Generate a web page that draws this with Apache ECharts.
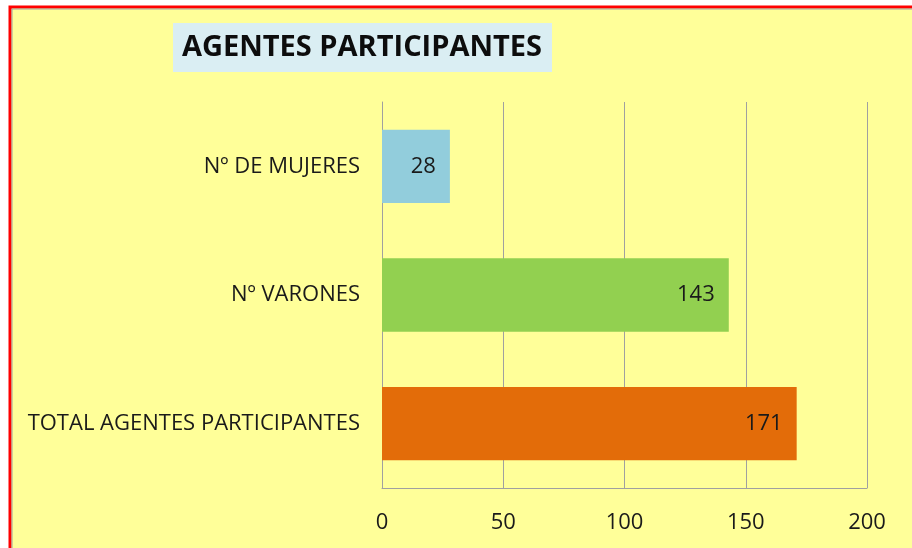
<!DOCTYPE html>
<html>
<head>
<meta charset="utf-8">
<script src="https://cdn.jsdelivr.net/npm/echarts@6/dist/echarts.min.js"></script>
<style>
  html, body { margin: 0; padding: 0; background: #ffffff; }
  #agentes-chart { width: 912px; height: 548px; }
</style>
</head>
<body>
<div id="agentes-chart"></div>
<script>
// datos del grafico
var categorias = ['Nº DE MUJERES', 'Nº VARONES', 'TOTAL AGENTES PARTICIPANTES'];
var valores = [28, 143, 171];
var colores = ['#92CDDC', '#92D050', '#E36C09'];
var ticksX = [0, 50, 100, 150, 200];

function loadAgentesChart() {
    var agentesChart = echarts.init(document.getElementById('agentes-chart'));

    var agentesOption = {
        backgroundColor: '#ffffff',
        animation: false,
        graphic: [{
            type: 'rect',
            z: -10,
            shape: { x: 10, y: 7, width: 1000, height: 1000 },
            style: { fill: '#FFFF99', stroke: '#FF0000', lineWidth: 3 }
        }, {
            type: 'rect',
            z: -9,
            shape: { x: 12, y: 9, width: 1000, height: 1000 },
            style: { fill: 'none', stroke: '#A0A0A0', lineWidth: 1 }
        }],
        title: {
            text: 'AGENTES PARTICIPANTES',
            left: 173,
            top: 23,
            padding: [10, 10, 10, 9],
            backgroundColor: '#DAEEF3',
            textStyle: {
                fontFamily: 'Open Sans',
                fontSize: 29,
                fontWeight: 'bold',
                color: '#0d0d0d'
            }
        },
        grid: {
            left: 382,
            right: 45,
            top: 102,
            bottom: 60
        },
        xAxis: {
            type: 'value',
            min: 0,
            max: 200,
            interval: 50,
            axisLine: { show: true, lineStyle: { color: '#A0A0A0' } },
            axisTick: { show: false },
            axisLabel: {
                margin: 24,
                fontFamily: 'Open Sans',
                fontSize: 22,
                color: '#1a1a1a',
                formatter: function (v) {
                    return ticksX.indexOf(v) >= 0 ? String(v) : '';
                }
            },
            splitLine: { show: true, lineStyle: { color: '#A0A0A0', width: 1 } }
        },
        yAxis: {
            type: 'category',
            inverse: true,
            data: categorias,
            axisLine: { show: true, lineStyle: { color: '#A0A0A0' } },
            axisTick: { show: false },
            axisLabel: {
                margin: 22,
                fontFamily: 'Open Sans',
                fontSize: 22,
                color: '#1a1a1a'
            }
        },
        series: [{
            name: 'Agentes',
            type: 'bar',
            barCategoryGap: '43%',
            data: valores.map(function (v, i) {
                return { value: v, itemStyle: { color: colores[i] } };
            }),
            label: {
                show: true,
                position: 'insideRight',
                distance: 14,
                fontFamily: 'Open Sans',
                fontSize: 22,
                color: '#1a1a1a'
            }
        }]
    };

    agentesChart.setOption(agentesOption);
}

loadAgentesChart();
</script>
</body>
</html>
